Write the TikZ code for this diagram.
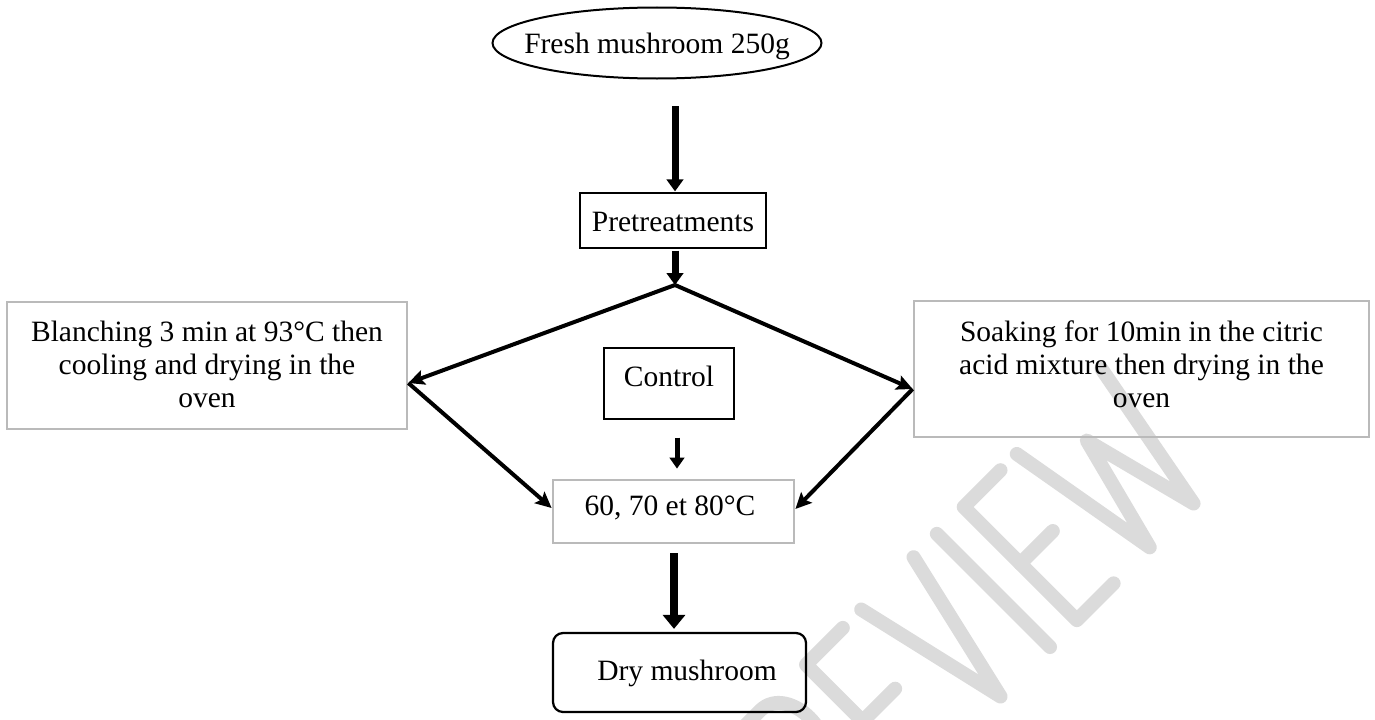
\documentclass[tikz,border=0pt]{standalone}
\usepackage{fontspec}
\setmainfont{Liberation Serif}
\usetikzlibrary{shapes.geometric,arrows.meta,calc}
\begin{document}
\begin{tikzpicture}[x=0.4pt,y=-0.4pt,
  txt/.style={font=\fontsize{11.8}{13.2}\selectfont, align=center, inner sep=0pt},
  blackbox/.style={draw=black, line width=0.5pt, rectangle, inner sep=0pt},
  graybox/.style={draw=black!27, line width=1.1pt, rectangle, inner sep=0pt},
  wm/.style={draw=black!14, line width=5.6pt, line cap=round, line join=round},
  thickarrow/.style={draw=black, line width=2.8pt, -{Triangle[width=6.6pt,length=4.8pt]}},
  midarrow/.style={draw=black, line width=2pt, -{Triangle[width=5.8pt,length=4.4pt]}},
  bigarrow/.style={draw=black, line width=3.2pt, -{Triangle[width=8.8pt,length=5.6pt]}},
  diag/.style={draw=black, line width=1.6pt, -{Stealth[width=6pt,length=6.4pt,inset=1.2pt]}}
]
\useasboundingbox (0,0) rectangle (1375,720);
\fill[white] (0,0) rectangle (1375,720);

% watermark
\begin{scope}
\clip (0,0) rectangle (1375,720);
\begin{scope}[shift={(1050,647)}, x=0.4pt, y=0.4pt, rotate=45]
\draw[wm] (-280,0) -- (-280,160) -- (-250,160) .. controls (-210,160) and (-210,80) .. (-250,80) -- (-280,80);
\draw[wm] (-245,80) -- (-215,0);
\draw[wm] (-133,160) -- (-185,160) -- (-185,0) -- (-133,0);
\draw[wm] (-185,80) -- (-139,80);
\draw[wm] (-107,160) -- (-70,0) -- (-33,160);
\draw[wm] (0,0) -- (0,160);
\draw[wm] (90,160) -- (38,160) -- (38,0) -- (90,0);
\draw[wm] (38,80) -- (84,80);
\draw[wm] (113,160) -- (141,0) -- (172,120) -- (203,0) -- (233,160);
\end{scope}
\end{scope}

% nodes
\node[ellipse, draw=black, line width=0.8pt, minimum width=131.6pt, minimum height=28.4pt, inner sep=0pt] (fresh) at (657,43) {};
\node[txt] (freshtxt) at (657,46) {Fresh mushroom 250g};

\node[blackbox, minimum width=74.4pt, minimum height=22pt] (pre) at (673,220.5) {};
\node[txt] (pretxt) at (673,222) {Pretreatments};

\node[graybox, minimum width=160pt, minimum height=50.8pt] (left) at (207,365.5) {};
\node[txt] (lefttxt) at (207,364) {Blanching 3 min at 93°C then\\cooling and drying in the\\oven};

\node[graybox, minimum width=182pt, minimum height=54.4pt] (right) at (1141.5,369) {};
\node[txt] (righttxt) at (1141.5,364) {Soaking for 10min in the citric\\acid mixture then drying in the\\oven};

\node[blackbox, minimum width=52pt, minimum height=28.4pt] (ctrl) at (669,383.5) {};
\node[txt] (ctrltxt) at (669,376) {Control};

\node[graybox, minimum width=96.4pt, minimum height=25.2pt] (temp) at (673.5,511.5) {};
\node[txt] (temptxt) at (670,508) {60, 70 et 80°C};

\node[draw=black, line width=0.9pt, rounded corners=4pt, minimum width=101.2pt, minimum height=31.6pt, inner sep=0pt] (dry) at (679.5,672.5) {};
\node[txt] (drytxt) at (687,673) {Dry mushroom};

\coordinate (split) at (675,285);

% connectors
\draw[thickarrow] ($(fresh.south)+(18,26.5)$) -- ($(pre.north)+(2,-1)$);
\draw[thickarrow] ($(pre.south)+(2,2)$) -- (split);
\draw[diag] (split) -- ($(left.east)+(0,17.5)$);
\draw[diag] (split) -- ($(right.west)+(0,20)$);
\draw[diag] ($(left.east)+(0,17.5)$) -- ($(temp.west)+(0,-3.5)$);
\draw[diag] ($(right.west)+(0,20)$) -- ($(temp.east)+(0,-2.5)$);
\draw[midarrow] ($(ctrl.south)+(8,18)$) -- ($(temp.north)+(3.5,-10)$);
\draw[bigarrow] ($(temp.south)+(0.5,9)$) -- ($(dry.north)+(-5.5,-3)$);
\end{tikzpicture}
\end{document}
